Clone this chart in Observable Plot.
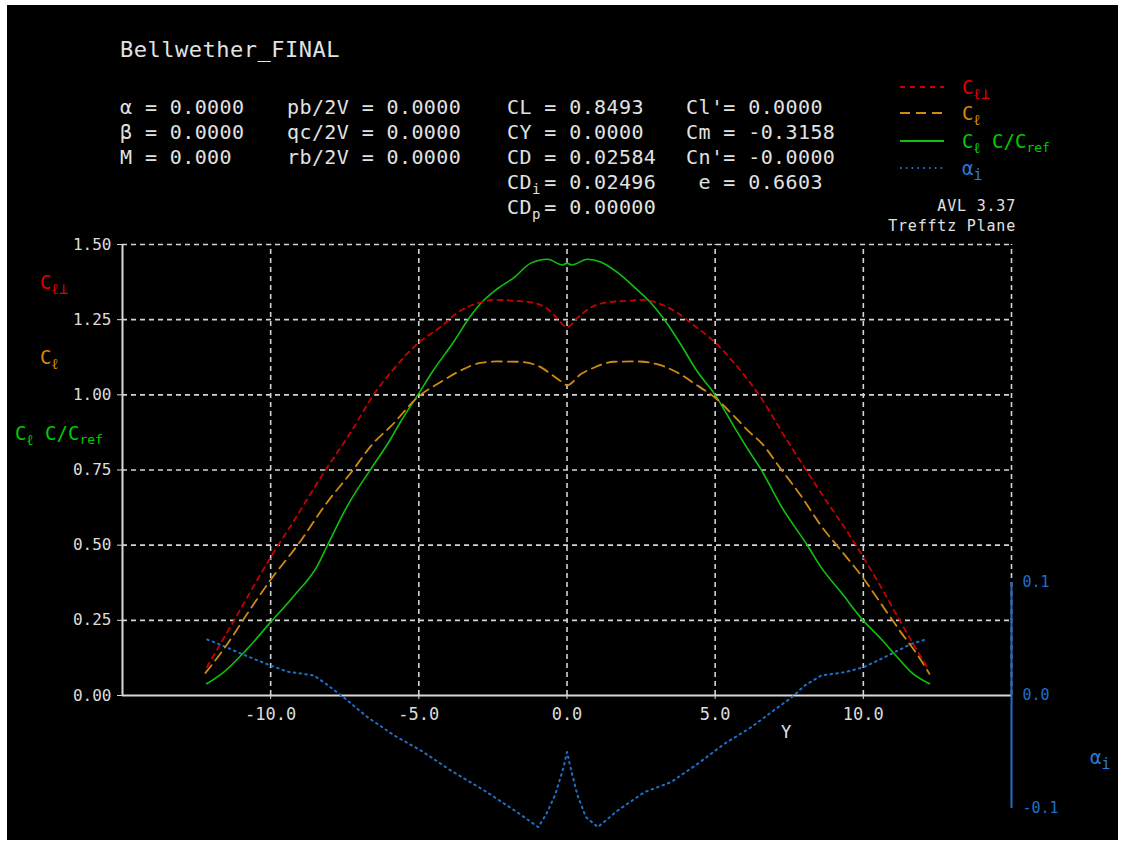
<!DOCTYPE html>
<html><head><meta charset="utf-8">
<script src="https://cdn.jsdelivr.net/npm/d3@7"></script>
<script src="https://cdn.jsdelivr.net/npm/@observablehq/plot@0.6"></script>
<style>
html,body{margin:0;padding:0;background:#fff;}
#wrap{position:absolute;left:7px;top:5px;width:1111px;height:835px;background:#000;overflow:hidden;}
#chart{position:absolute;left:0;top:0;}
.t{position:absolute;white-space:pre;line-height:1;font-family:"DejaVu Sans Mono",monospace;color:#e2e2e2;}
.h{font-size:20px;letter-spacing:0.4px;}
.sb{display:inline-block;width:12.4px;font-size:14px;vertical-align:-0.35em;}
.lg{font-size:19px;}
.lg sub{font-size:15px;vertical-align:-0.3em;line-height:0;}
.lg sub.s{font-size:13px;}
.red{color:#e00000}.org{color:#d98a00}.grn{color:#00cc00}.blu{color:#2a7ad8}
</style></head><body>
<div id="wrap">
<div id="chart"></div>
<svg id="legendsw" style="position:absolute;left:0;top:0" width="1111" height="835"></svg>
<div class="t" style="left:113px;top:34px;font-size:22px;letter-spacing:0.5px">Bellwether_FINAL</div>

<div class="t h" style="left:113px;top:92px">α = 0.0000</div>
<div class="t h" style="left:113px;top:117px">β = 0.0000</div>
<div class="t h" style="left:113px;top:142px">M = 0.000</div>

<div class="t h" style="left:280px;top:92px">pb/2V = 0.0000</div>
<div class="t h" style="left:280px;top:117px">qc/2V = 0.0000</div>
<div class="t h" style="left:280px;top:142px">rb/2V = 0.0000</div>

<div class="t h" style="left:500px;top:92px">CL = 0.8493</div>
<div class="t h" style="left:500px;top:117px">CY = 0.0000</div>
<div class="t h" style="left:500px;top:142px">CD = 0.02584</div>
<div class="t h" style="left:500px;top:167px">CD<span class="sb">i</span>= 0.02496</div>
<div class="t h" style="left:500px;top:192px">CD<span class="sb">p</span>= 0.00000</div>

<div class="t h" style="left:679px;top:92px">Cl'= 0.0000</div>
<div class="t h" style="left:679px;top:117px">Cm = -0.3158</div>
<div class="t h" style="left:679px;top:142px">Cn'= -0.0000</div>
<div class="t h" style="left:679px;top:167px"> e = 0.6603</div>

<div class="t lg red" style="left:955px;top:73px">C<sub>ℓ⊥</sub></div>
<div class="t lg org" style="left:955px;top:99px">C<sub>ℓ</sub></div>
<div class="t lg grn" style="left:955px;top:127px">C<sub>ℓ</sub> C/C<sub class="s">ref</sub></div>
<div class="t lg blu" style="left:955px;top:154px">α<sub>i</sub></div>

<div class="t" style="right:102px;top:194px;font-size:15px;letter-spacing:0.8px">AVL 3.37</div>
<div class="t" style="right:102px;top:214px;font-size:15px;letter-spacing:0.8px">Trefftz Plane</div>

<div class="t lg red" style="left:33px;top:268px">C<sub>ℓ⊥</sub></div>
<div class="t lg org" style="left:33px;top:343px">C<sub>ℓ</sub></div>
<div class="t lg grn" style="left:8px;top:419px">C<sub>ℓ</sub> C/C<sub class="s">ref</sub></div>

<div class="t" style="left:774px;top:719px;font-size:17px">Y</div>
<div class="t lg blu" style="left:1083px;top:743px">α<sub>i</sub></div>
</div>
<script>
// ---- data ----
const clPerpY = [-12.15,-11.24,-10,-9.32,-8.2,-7.3,-6.51,-5.9,-5,-4.29,-3.61,-2.93,-2.47,-1.79,-1.1,-0.65,-0.31,0,0.36,0.81,1.48,2.15,2.48,3.15,3.71,4.27,5.0,5.62,6.54,7.33,8.12,8.8,9.47,10,10.6,11.16,11.72,12.15];
const clPerp  = [0.095,0.249,0.46,0.565,0.742,0.875,1.003,1.08,1.174,1.224,1.279,1.307,1.316,1.313,1.305,1.285,1.252,1.225,1.257,1.291,1.309,1.313,1.316,1.302,1.274,1.232,1.174,1.108,0.991,0.864,0.742,0.640,0.543,0.46,0.36,0.262,0.165,0.095];

const clY = [-12.2,-11.58,-10.6,-10,-9.1,-8.09,-7.3,-6.51,-5.95,-5.0,-4.29,-3.61,-2.93,-2.36,-1.67,-0.99,-0.54,-0.19,0,0.47,0.92,1.59,2.37,3.04,3.71,4.38,5.0,5.62,6.17,6.54,7.22,7.89,8.57,9.25,10,10.6,11.27,11.84,12.23];
const cl  = [0.075,0.155,0.30,0.385,0.499,0.643,0.74,0.842,0.895,0.995,1.041,1.080,1.106,1.111,1.110,1.097,1.069,1.044,1.032,1.069,1.091,1.110,1.111,1.102,1.075,1.032,0.99,0.931,0.875,0.842,0.753,0.665,0.565,0.482,0.39,0.305,0.21,0.133,0.072];

const clcY = [-12.16,-11.58,-10.79,-10,-9.21,-8.42,-8.09,-7.41,-6.62,-5.95,-5.66,-5,-4.52,-3.84,-3.29,-2.93,-2.36,-1.79,-1.22,-0.65,-0.15,0,0.15,0.69,1.14,1.70,2.32,2.82,3.27,3.83,4.38,5.0,5.62,6.17,6.54,7.22,8.12,8.57,9.25,10,10.6,11.05,11.61,12.23];
const clc  = [0.039,0.078,0.155,0.244,0.332,0.432,0.498,0.631,0.753,0.853,0.903,1.005,1.080,1.174,1.257,1.302,1.352,1.390,1.438,1.451,1.432,1.438,1.432,1.451,1.442,1.407,1.354,1.307,1.252,1.169,1.080,1.0,0.897,0.809,0.753,0.631,0.498,0.427,0.343,0.249,0.188,0.138,0.078,0.039];

const aiY = [-12.14,-11.6,-11.0,-10.0,-9.44,-8.54,-8.09,-7.52,-6.73,-5.83,-4.93,-3.92,-2.79,-1.67,-0.97,-0.7,-0.4,-0.12,0,0.12,0.35,0.64,1.04,1.71,2.61,3.51,4.41,5.31,6.22,7.12,7.57,8.02,8.58,9.37,10.01,10.72,11.62,12.15];
const ai  = [0.0496,0.044,0.037,0.0265,0.0212,0.0177,0.0095,-0.002,-0.0192,-0.0354,-0.0487,-0.0664,-0.0841,-0.1035,-0.1165,-0.105,-0.088,-0.064,-0.050,-0.064,-0.088,-0.1077,-0.1165,-0.1018,-0.0856,-0.0767,-0.0605,-0.0428,-0.028,-0.0104,-0.002,0.0088,0.0177,0.0206,0.025,0.0339,0.0457,0.050];

const xTicks = [-10, -5, 0, 5, 10];
const clTicks = [0, 0.25, 0.5, 0.75, 1.0, 1.25, 1.5];
const aiTicks = [-0.1, 0.0, 0.1];

// ---- rendering ----
const RED = "#c80000", ORG = "#d08a10", GRN = "#10c010", BLU = "#1e6fc8", GRID = "#d4d4d4";
const f = 3.757; // alpha_i axis: 0.1 spans the same height as 0.3757 on the Cl axis
const rows = (xs, vs) => xs.map((x, i) => ({x, v: vs[i]}));
const dash = {stroke: GRID, strokeWidth: 1.6, strokeDasharray: "5,4"};

const chart = Plot.plot({
  width: 1111, height: 835,
  marginLeft: 115, marginRight: 107, marginTop: 239, marginBottom: 145,
  x: {domain: [-15, 15], axis: null},
  y: {domain: [0, 1.5], axis: null},
  style: {background: "transparent", fontFamily: "DejaVu Sans Mono", color: "#e0e0e0", overflow: "visible"},
  marks: [
    Plot.ruleY(clTicks.filter(d => d > 0), {x1: -15, x2: 15, ...dash}),
    Plot.ruleX(xTicks, {y1: 0, y2: 1.5, ...dash}),
    Plot.ruleX([15], {y1: 0, y2: 1.5, ...dash}),
    Plot.ruleX([-15], {y1: 0, y2: 1.5, stroke: "#d8d8d8", strokeWidth: 2}),
    Plot.ruleY([0], {x1: -15, x2: 15, stroke: "#d8d8d8", strokeWidth: 2}),
    Plot.ruleX([15], {y1: -0.1 * f, y2: 0.1 * f, stroke: BLU, strokeWidth: 2}),
    Plot.axisY(clTicks, {anchor: "left", tickSize: 5, tickPadding: 6, tickFormat: d => d.toFixed(2), fontSize: 16, color: "#dcdcdc", label: null}),
    Plot.axisX(xTicks, {anchor: "bottom", tickSize: 4, tickPadding: 8, tickFormat: d => d.toFixed(1), fontSize: 17, color: "#dcdcdc", label: null}),
    Plot.text(aiTicks, {x: d => 15, y: d => d * f, text: d => d.toFixed(1), dx: 11, textAnchor: "start", fill: BLU, fontSize: 15}),
    Plot.line(rows(aiY, ai), {x: "x", y: d => d.v * f, stroke: BLU, strokeWidth: 2, strokeDasharray: "1.6,4.2"}),
    Plot.line(rows(clcY, clc), {x: "x", y: "v", stroke: GRN, strokeWidth: 1.6, curve: "monotone-x"}),
    Plot.line(rows(clY, cl), {x: "x", y: "v", stroke: ORG, strokeWidth: 1.8, strokeDasharray: "10,6", curve: "monotone-x"}),
    Plot.line(rows(clPerpY, clPerp), {x: "x", y: "v", stroke: RED, strokeWidth: 1.8, strokeDasharray: "5,5", curve: "monotone-x"})
  ]
});
document.getElementById("chart").appendChild(chart);

// legend swatches
const sw = d3.select("#legendsw");
[[82, RED, "5,5"], [108, ORG, "10,6"], [136, GRN, null], [163, BLU, "1.6,4.2"]].forEach(([y, c, da]) => {
  sw.append("line").attr("x1", 893).attr("x2", 937).attr("y1", y).attr("y2", y)
    .attr("stroke", c).attr("stroke-width", 2).attr("stroke-dasharray", da);
});
</script>
</body></html>
